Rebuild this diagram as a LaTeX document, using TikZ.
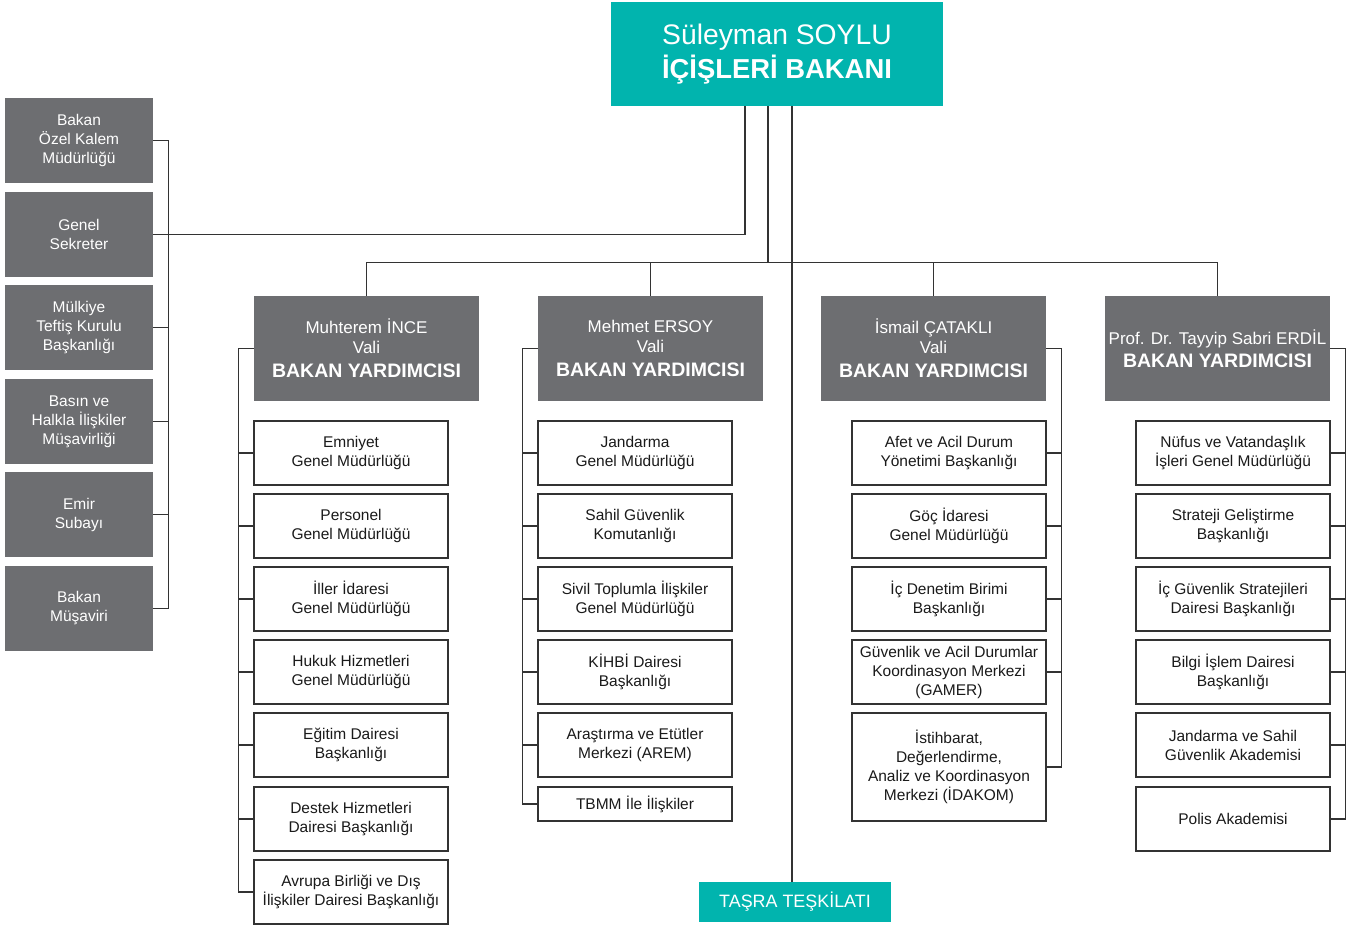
\documentclass[tikz,border=0pt]{standalone}
\usepackage{fontspec}
\setmainfont{Liberation Sans}
\definecolor{tealc}{HTML}{01B4AE}
\definecolor{grayc}{HTML}{6D6E71}
\definecolor{linec}{HTML}{333333}
\definecolor{textc}{HTML}{1A1A1A}
\tikzset{
  ln/.style={draw=linec, line width=1.1pt},
  topbox/.style={fill=tealc, text=white, align=center, inner sep=0pt},
  lbox/.style={fill=grayc, text=white, align=center, inner sep=0pt,
    minimum width=148pt, minimum height=85pt, font=\fontsize{15.5}{19}\selectfont},
  dbox/.style={fill=grayc, text=white, align=center, inner sep=0pt,
    minimum width=225pt, minimum height=105pt, font=\fontsize{17}{20}\selectfont},
  sbox/.style={draw=linec, line width=1.1pt, fill=white, text=textc, align=center, inner sep=0pt,
    minimum width=194pt, minimum height=64pt, font=\fontsize{15.5}{19}\selectfont},
}
\newcommand{\dtitle}{{\fontsize{19.5}{24}\selectfont\bfseries BAKAN YARDIMCISI}}
\begin{document}
\begin{tikzpicture}[x=1pt,y=-1pt]
\useasboundingbox (0,0) rectangle (1350,926);
% top
\node[topbox, minimum width=332pt, minimum height=104pt] (top) at (777,54)
  {{\fontsize{28.3}{34}\selectfont Süleyman SOYLU}\\[4pt]{\fontsize{27.4}{34}\selectfont\bfseries İÇİŞLERİ BAKANI}};
\coordinate (t1) at (745,106);
\coordinate (t2) at (768,106);
\coordinate (t3) at (792,106);
% left column
\node[lbox] (l1) at (79,140.5) {Bakan\\Özel Kalem\\Müdürlüğü};
\node[lbox] (l2) at (79,234.5) {Genel\\Sekreter};
\node[lbox] (l3) at (79,327.5) {Mülkiye\\Teftiş Kurulu\\Başkanlığı};
\node[lbox] (l4) at (79,421.5) {Basın ve\\Halkla İlişkiler\\Müşavirliği};
\node[lbox] (l5) at (79,514.5) {Emir\\Subayı};
\node[lbox] (l6) at (79,608.5) {Bakan\\Müşaviri};
% deputies
\node[dbox] (d1) at (366.5,348.5) {Muhterem İNCE\\Vali\\[4pt]\dtitle};
\node[dbox] (d2) at (650.5,348.5) {Mehmet ERSOY\\Vali\\[4pt]\dtitle};
\node[dbox] (d3) at (933.5,348.5) {İsmail ÇATAKLI\\Vali\\[4pt]\dtitle};
\node[dbox] (d4) at (1217.5,348.5) {Prof. Dr. Tayyip Sabri ERDİL\\[3pt]\dtitle};
% column 1
\node[sbox] (a1) at (351,453) {Emniyet\\Genel Müdürlüğü};
\node[sbox] (a2) at (351,526) {Personel\\Genel Müdürlüğü};
\node[sbox] (a3) at (351,599) {İller İdaresi\\Genel Müdürlüğü};
\node[sbox] (a4) at (351,672) {Hukuk Hizmetleri\\Genel Müdürlüğü};
\node[sbox] (a5) at (351,745) {Eğitim Dairesi\\Başkanlığı};
\node[sbox] (a6) at (351,819) {Destek Hizmetleri\\Dairesi Başkanlığı};
\node[sbox] (a7) at (351,892) {Avrupa Birliği ve Dış\\İlişkiler Dairesi Başkanlığı};
% column 2
\node[sbox] (b1) at (635,453) {Jandarma\\Genel Müdürlüğü};
\node[sbox] (b2) at (635,526) {Sahil Güvenlik\\Komutanlığı};
\node[sbox] (b3) at (635,599) {Sivil Toplumla İlişkiler\\Genel Müdürlüğü};
\node[sbox] (b4) at (635,672) {KİHBİ Dairesi\\Başkanlığı};
\node[sbox] (b5) at (635,745) {Araştırma ve Etütler\\Merkezi (AREM)};
\node[sbox, minimum height=34pt] (b6) at (635,804) {TBMM İle İlişkiler};
% column 3
\node[sbox] (c1) at (949,453) {Afet ve Acil Durum\\Yönetimi Başkanlığı};
\node[sbox] (c2) at (949,526) {Göç İdaresi\\Genel Müdürlüğü};
\node[sbox] (c3) at (949,599) {İç Denetim Birimi\\Başkanlığı};
\node[sbox] (c4) at (949,672) {Güvenlik ve Acil Durumlar\\Koordinasyon Merkezi\\(GAMER)};
\node[sbox, minimum height=108pt] (c5) at (949,767) {İstihbarat,\\Değerlendirme,\\Analiz ve Koordinasyon\\Merkezi (İDAKOM)};
% column 4
\node[sbox] (e1) at (1233,453) {Nüfus ve Vatandaşlık\\İşleri Genel Müdürlüğü};
\node[sbox] (e2) at (1233,526) {Strateji Geliştirme\\Başkanlığı};
\node[sbox] (e3) at (1233,599) {İç Güvenlik Stratejileri\\Dairesi Başkanlığı};
\node[sbox] (e4) at (1233,672) {Bilgi İşlem Dairesi\\Başkanlığı};
\node[sbox] (e5) at (1233,745) {Jandarma ve Sahil\\Güvenlik Akademisi};
\node[sbox] (e6) at (1233,819) {Polis Akademisi};
% tasra
\node[topbox, minimum width=192pt, minimum height=40pt, font=\fontsize{17.9}{20}\selectfont] (ts) at (795,902) {TAŞRA TEŞKİLATI};
% connectors from top
\draw[ln] (l2.east) -| (t1);
\draw[ln] (d1.north) -- ++(0,-33) coordinate (bus) -- (bus -| d4.north) -- (d4.north);
\draw[ln] (d2.north) -- (d2.north |- bus);
\draw[ln] (d3.north) -- (d3.north |- bus);
\draw[ln] (t2) -- (t2 |- bus);
\draw[ln] (t3) -- (t3 |- ts.north);
% left bracket
\draw[ln] (l1.east) -- ++(15,0) |- (l6.east);
\foreach \n in {l3,l4,l5} \draw[ln] (\n.east) -- ++(15,0);
% column 1 bracket
\draw[ln] (d1.west) -- ++(-15,0) |- (a7.west);
\foreach \n in {a1,a2,a3,a4,a5,a6} \draw[ln] (\n.west) -- ++(-15,0);
% column 2 bracket
\draw[ln] (d2.west) -- ++(-15,0) |- (b6.west);
\foreach \n in {b1,b2,b3,b4,b5} \draw[ln] (\n.west) -- ++(-15,0);
% column 3 bracket
\draw[ln] (d3.east) -- ++(15,0) |- (c5.east);
\foreach \n in {c1,c2,c3,c4} \draw[ln] (\n.east) -- ++(15,0);
% column 4 bracket
\draw[ln] (d4.east) -- ++(15,0) |- (e6.east);
\foreach \n in {e1,e2,e3,e4,e5} \draw[ln] (\n.east) -- ++(15,0);
\end{tikzpicture}
\end{document}
